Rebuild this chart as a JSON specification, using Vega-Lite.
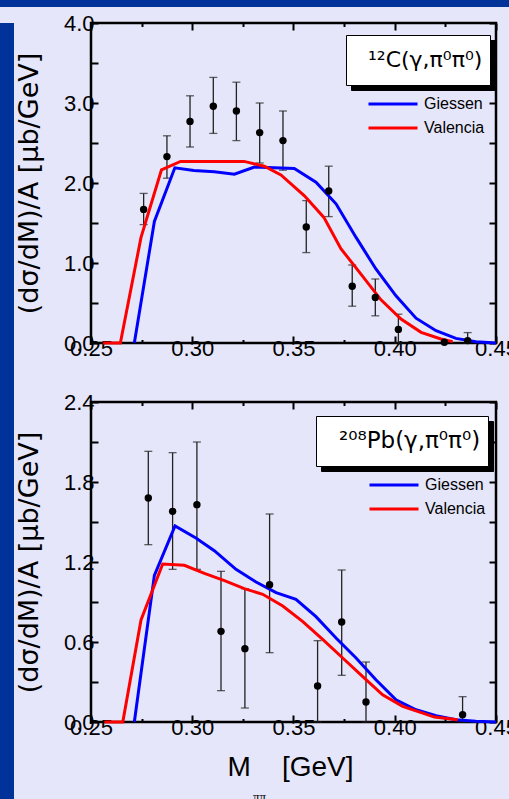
{
 "$schema": "https://vega.github.io/schema/vega-lite/v6.json",
 "background": "#E6E6FA",
 "padding": 0,
 "config": {"axis": {"grid": false}},
 "datasets": {
  "c12pts": [
   {"m":0.2760,"y":1.67,"lo":1.48,"hi":1.87},
   {"m":0.2875,"y":2.33,"lo":2.06,"hi":2.59},
   {"m":0.2989,"y":2.77,"lo":2.45,"hi":3.09},
   {"m":0.3104,"y":2.96,"lo":2.62,"hi":3.32},
   {"m":0.3218,"y":2.90,"lo":2.53,"hi":3.26},
   {"m":0.3333,"y":2.63,"lo":2.25,"hi":3.00},
   {"m":0.3448,"y":2.53,"lo":2.16,"hi":2.90},
   {"m":0.3563,"y":1.45,"lo":1.13,"hi":1.78},
   {"m":0.3674,"y":1.90,"lo":1.58,"hi":2.21},
   {"m":0.3790,"y":0.71,"lo":0.46,"hi":0.975},
   {"m":0.3904,"y":0.57,"lo":0.34,"hi":0.80},
   {"m":0.4018,"y":0.17,"lo":0.0,"hi":0.36},
   {"m":0.4245,"y":0.01,"lo":null,"hi":null},
   {"m":0.4360,"y":0.03,"lo":0.0,"hi":0.13}
  ],
  "c12lines": [
   {"m":0.2714,"v":0,"model":"Giessen"},
   {"m":0.2813,"v":1.52,"model":"Giessen"},
   {"m":0.2914,"v":2.19,"model":"Giessen"},
   {"m":0.3008,"v":2.155,"model":"Giessen"},
   {"m":0.3109,"v":2.14,"model":"Giessen"},
   {"m":0.3208,"v":2.11,"model":"Giessen"},
   {"m":0.3307,"v":2.20,"model":"Giessen"},
   {"m":0.3405,"v":2.19,"model":"Giessen"},
   {"m":0.3504,"v":2.18,"model":"Giessen"},
   {"m":0.3611,"v":2.01,"model":"Giessen"},
   {"m":0.3710,"v":1.74,"model":"Giessen"},
   {"m":0.3809,"v":1.32,"model":"Giessen"},
   {"m":0.3907,"v":0.925,"model":"Giessen"},
   {"m":0.4006,"v":0.59,"model":"Giessen"},
   {"m":0.4105,"v":0.31,"model":"Giessen"},
   {"m":0.4204,"v":0.154,"model":"Giessen"},
   {"m":0.4302,"v":0.058,"model":"Giessen"},
   {"m":0.4401,"v":0.017,"model":"Giessen"},
   {"m":0.4500,"v":0.0,"model":"Giessen"},
   {"m":0.2560,"v":0,"model":"Valencia"},
   {"m":0.2645,"v":0,"model":"Valencia"},
   {"m":0.2747,"v":1.32,"model":"Valencia"},
   {"m":0.2848,"v":2.165,"model":"Valencia"},
   {"m":0.2942,"v":2.27,"model":"Valencia"},
   {"m":0.3256,"v":2.27,"model":"Valencia"},
   {"m":0.3356,"v":2.21,"model":"Valencia"},
   {"m":0.3438,"v":2.10,"model":"Valencia"},
   {"m":0.3554,"v":1.84,"model":"Valencia"},
   {"m":0.3650,"v":1.57,"model":"Valencia"},
   {"m":0.3734,"v":1.18,"model":"Valencia"},
   {"m":0.3833,"v":0.86,"model":"Valencia"},
   {"m":0.3932,"v":0.54,"model":"Valencia"},
   {"m":0.4031,"v":0.30,"model":"Valencia"},
   {"m":0.4130,"v":0.133,"model":"Valencia"},
   {"m":0.4228,"v":0.05,"model":"Valencia"},
   {"m":0.4286,"v":0.017,"model":"Valencia"}
  ],
  "pbpts": [
   {"m":0.2783,"y":1.68,"lo":1.33,"hi":2.03},
   {"m":0.2903,"y":1.58,"lo":1.145,"hi":2.02},
   {"m":0.3023,"y":1.63,"lo":1.145,"hi":2.10},
   {"m":0.3142,"y":0.68,"lo":0.235,"hi":1.13},
   {"m":0.3260,"y":0.55,"lo":0.105,"hi":1.00},
   {"m":0.3382,"y":1.03,"lo":0.52,"hi":1.56},
   {"m":0.3619,"y":0.27,"lo":0.0,"hi":0.61},
   {"m":0.3738,"y":0.75,"lo":0.35,"hi":1.14},
   {"m":0.3858,"y":0.15,"lo":0.0,"hi":0.45},
   {"m":0.4335,"y":0.055,"lo":0.0,"hi":0.19}
  ],
  "pblines": [
   {"m":0.2714,"v":0,"model":"Giessen"},
   {"m":0.2813,"v":1.10,"model":"Giessen"},
   {"m":0.2915,"v":1.47,"model":"Giessen"},
   {"m":0.3018,"v":1.38,"model":"Giessen"},
   {"m":0.3109,"v":1.285,"model":"Giessen"},
   {"m":0.3216,"v":1.145,"model":"Giessen"},
   {"m":0.3315,"v":1.05,"model":"Giessen"},
   {"m":0.3414,"v":0.97,"model":"Giessen"},
   {"m":0.3512,"v":0.92,"model":"Giessen"},
   {"m":0.3611,"v":0.79,"model":"Giessen"},
   {"m":0.3710,"v":0.63,"model":"Giessen"},
   {"m":0.3809,"v":0.48,"model":"Giessen"},
   {"m":0.3907,"v":0.317,"model":"Giessen"},
   {"m":0.4006,"v":0.167,"model":"Giessen"},
   {"m":0.4105,"v":0.092,"model":"Giessen"},
   {"m":0.4204,"v":0.047,"model":"Giessen"},
   {"m":0.4302,"v":0.017,"model":"Giessen"},
   {"m":0.4400,"v":0.005,"model":"Giessen"},
   {"m":0.4500,"v":0.0,"model":"Giessen"},
   {"m":0.2566,"v":0,"model":"Valencia"},
   {"m":0.2657,"v":0,"model":"Valencia"},
   {"m":0.2747,"v":0.766,"model":"Valencia"},
   {"m":0.2854,"v":1.185,"model":"Valencia"},
   {"m":0.2961,"v":1.175,"model":"Valencia"},
   {"m":0.3060,"v":1.115,"model":"Valencia"},
   {"m":0.3159,"v":1.06,"model":"Valencia"},
   {"m":0.3257,"v":1.0,"model":"Valencia"},
   {"m":0.3348,"v":0.958,"model":"Valencia"},
   {"m":0.3447,"v":0.87,"model":"Valencia"},
   {"m":0.3546,"v":0.753,"model":"Valencia"},
   {"m":0.3644,"v":0.62,"model":"Valencia"},
   {"m":0.3743,"v":0.48,"model":"Valencia"},
   {"m":0.3842,"v":0.34,"model":"Valencia"},
   {"m":0.3940,"v":0.204,"model":"Valencia"},
   {"m":0.4039,"v":0.117,"model":"Valencia"},
   {"m":0.4138,"v":0.067,"model":"Valencia"},
   {"m":0.4196,"v":0.037,"model":"Valencia"},
   {"m":0.4311,"v":0.017,"model":"Valencia"}
  ]
 },
 "spacing": 0,
 "vconcat": [
  {"width": 509, "height": 7, "data": {"values": []}, "mark": "rect", "encoding": {}, "view": {"fill": "#003399", "stroke": null}},
  {"spacing": 0, "hconcat": [
   {"width": 14, "height": 792, "data": {"values": []}, "mark": "rect", "encoding": {}, "view": {"fill": "#003399", "stroke": null}},
   {"spacing": 28,
    "resolve": {"scale": {"color": "independent", "shape": "independent", "strokeDash": "independent"}, "legend": {"color": "independent", "shape": "independent", "strokeDash": "independent"}},
    "vconcat": [
    {
     "width": 405, "height": 320,
     "view": {"stroke": "black", "strokeWidth": 2.5},
     "resolve": {"axis": {"x": "independent", "y": "independent"}},
     "layer": [
      {"data": {"name": "c12pts"}, "transform": [{"filter": "datum.hi != null"}],
       "mark": {"type": "rule", "color": "#222222", "strokeWidth": 1.3},
       "encoding": {
        "x": {"field": "m", "type": "quantitative", "scale": {"domain": [0.25, 0.45], "nice": false, "zero": false},
              "axis": {"orient": "bottom", "values": [0.25, 0.3, 0.35, 0.4, 0.45], "format": ".2f", "domain": false, "grid": false, "tickSize": -7, "tickWidth": 2, "tickColor": "black", "labelFont": "Liberation Sans", "labelFontSize": 22, "labelColor": "black", "labelPadding": 2, "labelFlush": false, "labelOverlap": false, "title": null}},
        "y": {"field": "lo", "type": "quantitative", "scale": {"domain": [0, 4], "nice": false},
              "axis": {"orient": "left", "values": [0, 0.5, 1, 1.5, 2, 2.5, 3, 3.5, 4], "labelExpr": "datum.value % 1 === 0 ? format(datum.value, '.1f') : ''", "domain": false, "grid": false, "tickSize": -7, "tickWidth": 2, "tickColor": "black", "labelFont": "Liberation Sans", "labelFontSize": 22, "labelColor": "black", "labelPadding": 4, "labelFlush": false, "labelOverlap": false, "title": "(dσ/dM)/A [μb/GeV]", "titleFont": "DejaVu Sans", "titleFontSize": 27, "titleFontWeight": "normal", "titleColor": "black", "titlePadding": 20}},
        "y2": {"field": "hi"},
        "strokeDash": {"datum": "¹²C(γ,π⁰π⁰)\u200b", "scale": {"range": [[1, 0]]},
              "legend": {"orient": "none", "legendX": 260, "legendY": 17, "title": null, "symbolSize": 0, "symbolOpacity": 0, "labelOffset": -7, "labelFont": "DejaVu Sans", "labelFontSize": 22, "labelColor": "black", "labelLimit": 400, "padding": 7, "clipHeight": 36, "fillColor": "black", "strokeColor": "black"}}
       }},
      {"data": {"name": "c12pts"}, "transform": [{"filter": "datum.hi != null"}],
       "mark": {"type": "tick", "orient": "horizontal", "size": 8, "thickness": 1.3, "color": "#222222"},
       "encoding": {
        "x": {"field": "m", "type": "quantitative", "scale": {"domain": [0.25, 0.45], "nice": false, "zero": false},
              "axis": {"orient": "bottom", "values": [0.275, 0.325, 0.375, 0.425], "domain": false, "grid": false, "tickSize": -3.5, "tickWidth": 2, "tickColor": "black", "labels": false, "title": null}},
        "y": {"field": "hi", "type": "quantitative", "scale": {"domain": [0, 4], "nice": false},
              "axis": {"orient": "right", "values": [0, 0.5, 1, 1.5, 2, 2.5, 3, 3.5, 4], "domain": false, "grid": false, "tickSize": -7, "tickWidth": 2, "tickColor": "black", "labels": false, "title": null}}
       }},
      {"data": {"name": "c12pts"}, "transform": [{"filter": "datum.hi != null"}],
       "mark": {"type": "tick", "orient": "horizontal", "size": 8, "thickness": 1.3, "color": "#222222"},
       "encoding": {
        "x": {"field": "m", "type": "quantitative", "scale": {"domain": [0.25, 0.45], "nice": false, "zero": false},
              "axis": {"orient": "top", "values": [0.25, 0.3, 0.35, 0.4, 0.45], "domain": false, "grid": false, "tickSize": -7, "tickWidth": 2, "tickColor": "black", "labels": false, "title": "x", "titleFontSize": 10, "titlePadding": 3, "titleOpacity": 0}},
        "y": {"field": "lo", "type": "quantitative", "scale": {"domain": [0, 4], "nice": false}, "axis": null}
       }},
      {"data": {"name": "c12lines"}, "mark": {"type": "line", "strokeWidth": 3},
       "encoding": {
        "x": {"field": "m", "type": "quantitative", "scale": {"domain": [0.25, 0.45], "nice": false, "zero": false},
              "axis": {"orient": "top", "values": [0.275, 0.325, 0.375, 0.425], "domain": false, "grid": false, "tickSize": -3.5, "tickWidth": 2, "tickColor": "black", "labels": false, "title": null}},
        "y": {"field": "v", "type": "quantitative", "scale": {"domain": [0, 4], "nice": false}, "axis": null},
        "color": {"field": "model", "type": "nominal", "scale": {"domain": ["Giessen", "Valencia"], "range": ["#0000FF", "#FF0000"]},
              "legend": {"orient": "none", "legendX": 276, "legendY": 69, "title": null, "symbolType": "stroke", "symbolSize": 2401, "symbolStrokeWidth": 3, "labelFont": "Liberation Sans", "labelFontSize": 16, "labelColor": "black", "labelOffset": 5, "clipHeight": 24, "rowPadding": 0, "padding": 0}}
       }},
      {"data": {"name": "c12pts"}, "mark": {"type": "point", "filled": true, "size": 55, "color": "black", "opacity": 1},
       "encoding": {
        "x": {"field": "m", "type": "quantitative", "scale": {"domain": [0.25, 0.45], "nice": false, "zero": false}, "axis": null},
        "y": {"field": "y", "type": "quantitative", "scale": {"domain": [0, 4], "nice": false}, "axis": null},
        "shape": {"datum": "¹²C(γ,π⁰π⁰)", "scale": {"range": ["circle"]},
              "legend": {"orient": "none", "legendX": 255, "legendY": 12, "title": null, "symbolSize": 0, "symbolOpacity": 0, "labelOffset": -7, "labelFont": "DejaVu Sans", "labelFontSize": 22, "labelColor": "black", "labelLimit": 400, "padding": 7, "clipHeight": 36, "fillColor": "white", "strokeColor": "black"}}
       }}
     ]
    },
    {
     "width": 405, "height": 320,
     "view": {"stroke": "black", "strokeWidth": 2.5},
     "resolve": {"axis": {"x": "independent", "y": "independent"}},
     "layer": [
      {"data": {"name": "pbpts"}, "transform": [{"filter": "datum.hi != null"}],
       "mark": {"type": "rule", "color": "#222222", "strokeWidth": 1.3},
       "encoding": {
        "x": {"field": "m", "type": "quantitative", "scale": {"domain": [0.25, 0.45], "nice": false, "zero": false},
              "axis": {"orient": "bottom", "values": [0.25, 0.3, 0.35, 0.4, 0.45], "format": ".2f", "domain": false, "grid": false, "tickSize": -7, "tickWidth": 2, "tickColor": "black", "labelFont": "Liberation Sans", "labelFontSize": 22, "labelColor": "black", "labelPadding": 2, "labelFlush": false, "labelOverlap": false, "title": "M\u00a0\u00a0\u00a0\u00a0[GeV]", "titleFont": "Liberation Sans", "titleFontSize": 28, "titleFontWeight": "normal", "titleColor": "black", "titlePadding": 15, "titleX": 199}},
        "y": {"field": "lo", "type": "quantitative", "scale": {"domain": [0, 2.4], "nice": false},
              "axis": {"orient": "left", "values": [0, 0.3, 0.6, 0.9, 1.2, 1.5, 1.8, 2.1, 2.4], "labelExpr": "round(datum.value * 10) % 6 === 0 ? format(datum.value, '.1f') : ''", "domain": false, "grid": false, "tickSize": -7, "tickWidth": 2, "tickColor": "black", "labelFont": "Liberation Sans", "labelFontSize": 22, "labelColor": "black", "labelPadding": 4, "labelFlush": false, "labelOverlap": false, "title": "(dσ/dM)/A [μb/GeV]", "titleFont": "DejaVu Sans", "titleFontSize": 27, "titleFontWeight": "normal", "titleColor": "black", "titlePadding": 20}},
        "y2": {"field": "hi"},
        "strokeDash": {"datum": "²⁰⁸Pb(γ,π⁰π⁰)\u200b", "scale": {"range": [[1, 0]]},
              "legend": {"orient": "none", "legendX": 230, "legendY": 19, "title": null, "symbolSize": 0, "symbolOpacity": 0, "labelOffset": -7, "labelFont": "DejaVu Sans", "labelFontSize": 23, "labelColor": "black", "labelLimit": 400, "padding": 7, "clipHeight": 36, "fillColor": "black", "strokeColor": "black"}}
       }},
      {"data": {"name": "pbpts"}, "transform": [{"filter": "datum.hi != null"}],
       "mark": {"type": "tick", "orient": "horizontal", "size": 8, "thickness": 1.3, "color": "#222222"},
       "encoding": {
        "x": {"field": "m", "type": "quantitative", "scale": {"domain": [0.25, 0.45], "nice": false, "zero": false},
              "axis": {"orient": "bottom", "values": [0.275, 0.325, 0.375, 0.425], "domain": false, "grid": false, "tickSize": -3.5, "tickWidth": 2, "tickColor": "black", "labels": false, "title": "ππ", "titleFont": "Liberation Serif", "titleFontSize": 13, "titleFontWeight": "normal", "titleColor": "black", "titleX": 168, "titleY": 68, "titleBaseline": "top", "titleAlign": "center"}},
        "y": {"field": "hi", "type": "quantitative", "scale": {"domain": [0, 2.4], "nice": false},
              "axis": {"orient": "right", "values": [0, 0.3, 0.6, 0.9, 1.2, 1.5, 1.8, 2.1, 2.4], "domain": false, "grid": false, "tickSize": -7, "tickWidth": 2, "tickColor": "black", "labels": false, "title": null}}
       }},
      {"data": {"name": "pbpts"}, "transform": [{"filter": "datum.hi != null"}],
       "mark": {"type": "tick", "orient": "horizontal", "size": 8, "thickness": 1.3, "color": "#222222"},
       "encoding": {
        "x": {"field": "m", "type": "quantitative", "scale": {"domain": [0.25, 0.45], "nice": false, "zero": false},
              "axis": {"orient": "top", "values": [0.25, 0.3, 0.35, 0.4, 0.45], "domain": false, "grid": false, "tickSize": -7, "tickWidth": 2, "tickColor": "black", "labels": false, "title": null}},
        "y": {"field": "lo", "type": "quantitative", "scale": {"domain": [0, 2.4], "nice": false}, "axis": null}
       }},
      {"data": {"name": "pblines"}, "mark": {"type": "line", "strokeWidth": 3},
       "encoding": {
        "x": {"field": "m", "type": "quantitative", "scale": {"domain": [0.25, 0.45], "nice": false, "zero": false},
              "axis": {"orient": "top", "values": [0.275, 0.325, 0.375, 0.425], "domain": false, "grid": false, "tickSize": -3.5, "tickWidth": 2, "tickColor": "black", "labels": false, "title": null}},
        "y": {"field": "v", "type": "quantitative", "scale": {"domain": [0, 2.4], "nice": false}, "axis": null},
        "color": {"field": "model", "type": "nominal", "scale": {"domain": ["Giessen", "Valencia"], "range": ["#0000FF", "#FF0000"]},
              "legend": {"orient": "none", "legendX": 277, "legendY": 71, "title": null, "symbolType": "stroke", "symbolSize": 2401, "symbolStrokeWidth": 3, "labelFont": "Liberation Sans", "labelFontSize": 16, "labelColor": "black", "labelOffset": 5, "clipHeight": 24, "rowPadding": 0, "padding": 0}}
       }},
      {"data": {"name": "pbpts"}, "mark": {"type": "point", "filled": true, "size": 55, "color": "black", "opacity": 1},
       "encoding": {
        "x": {"field": "m", "type": "quantitative", "scale": {"domain": [0.25, 0.45], "nice": false, "zero": false}, "axis": null},
        "y": {"field": "y", "type": "quantitative", "scale": {"domain": [0, 2.4], "nice": false}, "axis": null},
        "shape": {"datum": "²⁰⁸Pb(γ,π⁰π⁰)", "scale": {"range": ["circle"]},
              "legend": {"orient": "none", "legendX": 225, "legendY": 14, "title": null, "symbolSize": 0, "symbolOpacity": 0, "labelOffset": -7, "labelFont": "DejaVu Sans", "labelFontSize": 23, "labelColor": "black", "labelLimit": 400, "padding": 7, "clipHeight": 36, "fillColor": "white", "strokeColor": "black"}}
       }}
     ]
    }
   ]}
  ]}
 ]
}
